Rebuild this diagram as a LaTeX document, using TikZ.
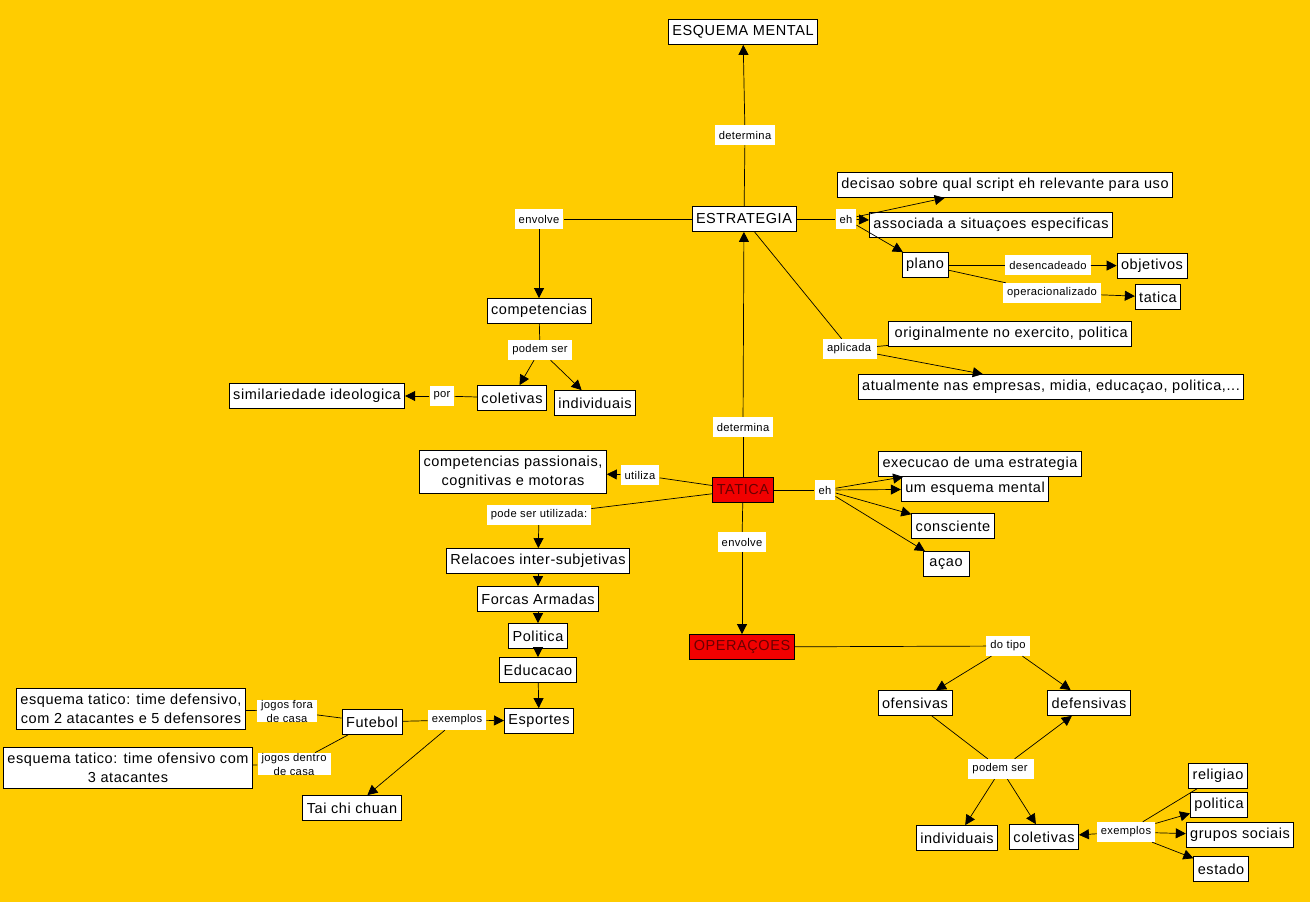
\documentclass[tikz,border=0pt]{standalone}
\usepackage{fontspec}
\setmainfont{Liberation Sans}
\newfontfamily\nodefont{Liberation Sans}[LetterSpace=4]
\newfontfamily\labfont{Liberation Sans}[LetterSpace=3]
\usetikzlibrary{arrows.meta}
\definecolor{bg}{HTML}{FFCC00}
\definecolor{cred}{HTML}{F20000}
\definecolor{ctext}{HTML}{6A0000}
\begin{document}
\begin{tikzpicture}[x=1pt,y=-1pt,
 concept/.style={draw=black, fill=white, font=\nodefont\fontsize{14.5}{18}\selectfont, inner xsep=4pt, inner ysep=0pt, minimum height=25pt, align=center, line width=0.8pt},
 multi/.style={concept, font=\nodefont\fontsize{14.5}{19}\selectfont, inner ysep=5.5pt},
 lab/.style={fill=white, font=\labfont\fontsize{11.2}{14}\selectfont, inner xsep=4pt, inner ysep=0pt, minimum height=20pt, align=center},
 hot/.style={concept, fill=cred, text=ctext},
 ln/.style={line width=0.7pt},
 arr/.style={ln, -{Triangle[length=10pt,width=10pt]}}]
\fill[bg] (0,0) rectangle (1310,902);
% concepts
\node[concept] (esq) at (743,32) {ESQUEMA MENTAL};
\node[concept] (estr) at (744,219) {ESTRATEGIA};
\node[concept] (comp) at (539,311) {competencias};
\node[concept] (colet) at (512,398) {coletivas};
\node[concept] (indiv) at (595,403) {individuais};
\node[concept] (simil) at (317,396) {similariedade ideologica};
\node[concept] (decis) at (1005,185) {decisao sobre qual script eh relevante para uso};
\node[concept] (assoc) at (991,225) {associada a situaçoes especificas};
\node[concept] (plano) at (925,265) {plano};
\node[concept] (objet) at (1152,266) {objetivos};
\node[concept] (tatc) at (1158,297) {tatica};
\node[concept] (orig) at (1010,334) {\,originalmente no exercito, politica};
\node[concept] (atual) at (1051,387) {atualmente nas empresas, midia, educaçao, politica,...};
\node[hot] (tat) at (743,490) {TATICA};
\node[multi] (cpass) at (513,472) {competencias passionais,\\cognitivas e motoras};
\node[concept] (exec) at (980,464) {execucao de uma estrategia};
\node[concept] (umesq) at (975,489) {um esquema mental};
\node[concept] (consc) at (953,526) {consciente};
\node[concept] (acao) at (946,564) {\,açao\,};
\node[hot] (oper) at (742,647) {OPERAÇOES};
\node[concept] (rel) at (538,561) {Relacoes inter-subjetivas};
\node[concept] (forc) at (538,599) {Forcas Armadas};
\node[concept] (pol) at (538,636) {Politica};
\node[concept] (educ) at (538,670) {Educacao};
\node[concept] (esp) at (539,721) {Esportes};
\node[concept] (fut) at (372,722) {Futebol};
\node[multi] (edef) at (131,709) {esquema tatico: time defensivo,\\com 2 atacantes e 5 defensores};
\node[multi] (eofe) at (128,768) {esquema tatico: time ofensivo com\\3 atacantes};
\node[concept] (tai) at (352,808) {Tai chi chuan};
\node[concept] (ofens) at (915,703) {ofensivas};
\node[concept] (defens) at (1089,703) {defensivas};
\node[concept] (indiv2) at (957,838) {individuais};
\node[concept] (colet2) at (1044,837) {coletivas};
\node[concept] (relig) at (1218,776) {religiao};
\node[concept] (polit2) at (1219,805) {politica};
\node[concept] (grup) at (1240,835) {grupos sociais};
\node[concept] (estado) at (1221,869) {estado};
% labels
\node[lab] (l1) at (745,135) {determina};
\node[lab] (l2) at (539,219) {envolve};
\node[lab] (l3) at (540,350) {podem ser};
\node[lab] (l4) at (442,396) {por};
\node[lab] (l5) at (846,219) {eh};
\node[lab] (l6) at (1048,265) {desencadeado};
\node[lab] (l7) at (1052,293) {operacionalizado};
\node[lab] (l8) at (850,349) {aplicada\,};
\node[lab] (l9) at (743,427) {determina};
\node[lab] (l10) at (640,475) {utiliza};
\node[lab] (l11) at (539,515) {pode ser utilizada:};
\node[lab] (l12) at (825,490) {eh};
\node[lab] (l13) at (742,542) {envolve};
\node[lab] (l14) at (457,720) {exemplos};
\node[lab] (l15) at (287,711) {jogos fora\\de casa};
\node[lab] (l16) at (294,764) {jogos dentro\\de casa};
\node[lab] (l17) at (1008,646) {do tipo};
\node[lab] (l18) at (1001,769) {podem ser\,};
\node[lab] (l19) at (1126,832) {exemplos};
% connectors
\draw[ln] (estr) -- (l1); \draw[arr] (l1) -- (esq);
\draw[ln] (estr) -- (l2); \draw[arr] (l2) -- (comp);
\draw[ln] (comp) -- (l3); \draw[arr] (l3) -- (colet); \draw[arr] (l3) -- (indiv);
\draw[ln] (colet) -- (l4); \draw[arr] (l4) -- (simil);
\draw[ln] (estr) -- (l5); \draw[arr] (l5) -- (decis); \draw[arr] (l5) -- (assoc); \draw[arr] (l5) -- (plano);
\draw[ln] (plano) -- (l6); \draw[arr] (l6) -- (objet);
\draw[ln] (plano) -- (l7); \draw[arr] (l7) -- (tatc);
\draw[ln] (estr) -- (l8); \draw[ln] (l8) -- (orig); \draw[arr] (l8) -- (atual);
\draw[ln] (tat) -- (l9); \draw[arr] (l9) -- (estr);
\draw[ln] (tat) -- (l10); \draw[arr] (l10) -- (cpass);
\draw[ln] (tat) -- (l11); \draw[arr] (l11) -- (rel);
\draw[arr] (rel) -- (forc); \draw[arr] (forc) -- (pol); \draw[arr] (pol) -- (educ); \draw[arr] (educ) -- (esp);
\draw[ln] (tat) -- (l12); \draw[arr] (l12) -- (exec); \draw[arr] (l12) -- (umesq); \draw[arr] (l12) -- (consc); \draw[arr] (l12) -- (acao);
\draw[ln] (tat) -- (l13); \draw[arr] (l13) -- (oper);
\draw[ln] (fut) -- (l14); \draw[arr] (l14) -- (esp); \draw[arr] (l14) -- (tai);
\draw[ln] (fut) -- (l15); \draw[ln] (l15) -- (edef);
\draw[ln] (fut) -- (l16); \draw[ln] (l16) -- (eofe);
\draw[ln] (oper) -- (l17); \draw[arr] (l17) -- (ofens); \draw[arr] (l17) -- (defens);
\draw[ln] (ofens) -- (l18); \draw[arr] (l18) -- (defens); \draw[arr] (l18) -- (indiv2); \draw[arr] (l18) -- (colet2);
\draw[ln] (relig) -- (l19); \draw[arr] (l19) -- (colet2); \draw[arr] (l19) -- (polit2); \draw[arr] (l19) -- (grup); \draw[arr] (l19) -- (estado);
\end{tikzpicture}
\end{document}
